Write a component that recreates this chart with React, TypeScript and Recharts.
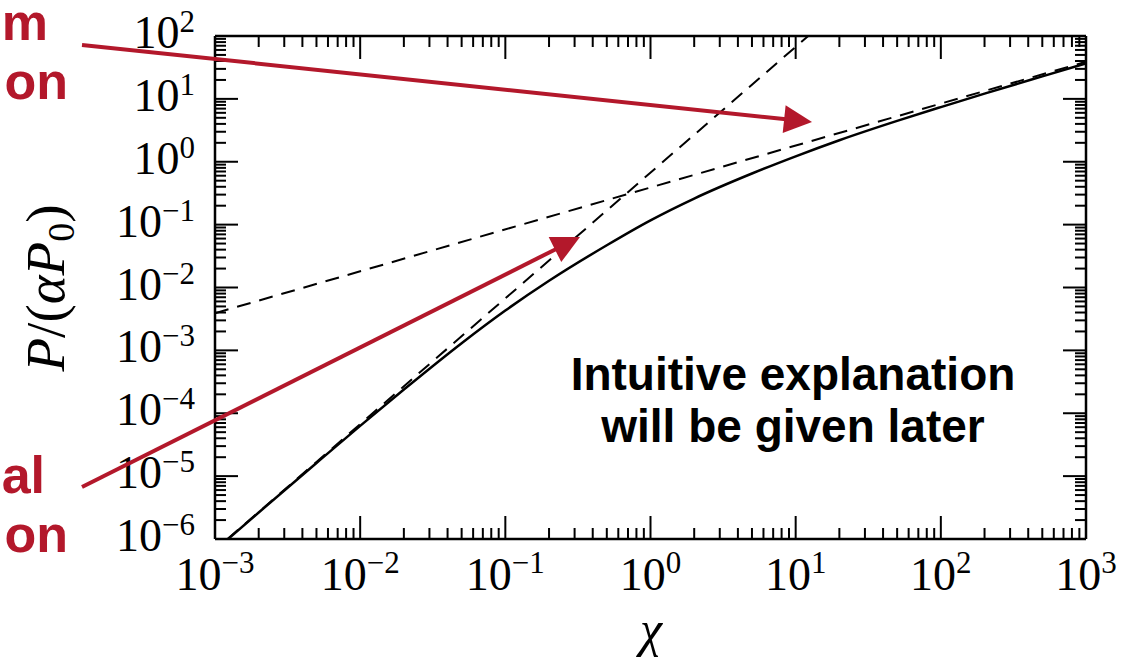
import React from 'react';
import { LineChart, Line, XAxis, YAxis } from 'recharts';

// axis decades and minor subdivisions
const chiDecades = [1e-3, 1e-2, 1e-1, 1, 1e1, 1e2, 1e3];
const powerDecades = [1e-6, 1e-5, 1e-4, 1e-3, 1e-2, 1e-1, 1, 1e1, 1e2];
const minorSteps = [2, 3, 4, 5, 6, 7, 8, 9];

// full radiated power P/(αP0) versus χ
const chiValues = [0.001, 0.002, 0.005, 0.01, 0.02, 0.05, 0.1, 0.2, 0.5, 1, 2, 5, 10, 20, 50, 100, 200, 500, 1000];
const powerValues = [6.6e-7, 2.64e-6, 1.62e-5, 6.3e-5, 2.38e-4, 1.3e-3, 4.3e-3, 1.28e-2, 0.047, 0.117, 0.26, 0.65, 1.22, 2.2, 4.47, 7.4, 12.1, 22.8, 36.7];

// classical asymptote (slope 2)
const classicalChi = [0.00122, 12.2];
const classicalPower = [1e-6, 100];

// strong-field asymptote (slope 2/3)
const strongChi = [0.001, 1000];
const strongPower = [0.0039, 39];

const fullCurve = chiValues.map((chi, i) => ({ chi, p: powerValues[i] }));
const classicalLine = classicalChi.map((chi, i) => ({ chi, p: classicalPower[i] }));
const strongLine = strongChi.map((chi, i) => ({ chi, p: strongPower[i] }));

const withMinors = (decades: number[]) => {
  const out: number[] = [];
  decades.forEach((d, i) => {
    out.push(d);
    if (i < decades.length - 1) minorSteps.forEach((m) => out.push(d * m));
  });
  return out;
};
const chiTicks = withMinors(chiDecades);
const powerTicks = withMinors(powerDecades);

const RED = '#b3182b';
const MAJOR = 23;
const MINOR = 11;
const SERIF = '"Liberation Serif", "DejaVu Serif", serif';
const SANS = '"Liberation Sans", Arial, sans-serif';

const isDecade = (v: number) => Math.abs(Math.log10(v) - Math.round(Math.log10(v))) < 1e-6;
const expText = (v: number) => {
  const e = Math.round(Math.log10(v));
  return e < 0 ? `\u2212${-e}` : `${e}`;
};

const BottomTick = ({ x, y, payload }: any) => {
  const major = isDecade(payload.value);
  return (
    <g>
      <line x1={x} x2={x} y1={y} y2={y - (major ? MAJOR : MINOR)} stroke="#000" strokeWidth={2} />
      {major && (
        <text x={x} y={y + 51} textAnchor="middle" fontFamily={SERIF} fontSize={46} fill="#000">
          10
          <tspan dy={-17} fontSize={31}>
            {expText(payload.value)}
          </tspan>
        </text>
      )}
    </g>
  );
};

const TopTick = ({ x, y, payload }: any) => {
  const major = isDecade(payload.value);
  return <line x1={x} x2={x} y1={y} y2={y + (major ? MAJOR : MINOR)} stroke="#000" strokeWidth={2} />;
};

const LeftTick = ({ x, y, payload }: any) => {
  const major = isDecade(payload.value);
  return (
    <g>
      <line x1={x} x2={x + (major ? MAJOR : MINOR)} y1={y} y2={y} stroke="#000" strokeWidth={2} />
      {major && (
        <text x={x - 20} y={y + 12} textAnchor="end" fontFamily={SERIF} fontSize={46} fill="#000">
          10
          <tspan dy={-16} fontSize={31}>
            {expText(payload.value)}
          </tspan>
        </text>
      )}
    </g>
  );
};

const RightTick = ({ x, y, payload }: any) => {
  const major = isDecade(payload.value);
  return <line x1={x} x2={x - (major ? MAJOR : MINOR)} y1={y} y2={y} stroke="#000" strokeWidth={2} />;
};

// red pointer arrows, from tail to tip
const arrows = [
  { from: [82, 45], to: [812, 122] },
  { from: [82, 487], to: [580, 237] },
];

const Arrow = ({ from, to }: { from: number[]; to: number[] }) => {
  const dx = to[0] - from[0];
  const dy = to[1] - from[1];
  const len = Math.hypot(dx, dy);
  const ux = dx / len;
  const uy = dy / len;
  const headLen = 28;
  const half = 14;
  const bx = to[0] - ux * headLen;
  const by = to[1] - uy * headLen;
  const pts = [
    [to[0], to[1]],
    [bx - uy * half, by + ux * half],
    [bx + uy * half, by - ux * half],
  ]
    .map((p) => p.join(','))
    .join(' ');
  return (
    <g>
      <line x1={from[0]} y1={from[1]} x2={bx + ux * 2} y2={by + uy * 2} stroke={RED} strokeWidth={4} />
      <polygon points={pts} fill={RED} />
    </g>
  );
};

const axisLine = { stroke: '#000', strokeWidth: 2.5 };

export default function App() {
  return (
    <div style={{ position: 'absolute', left: 0, top: 0, width: 1141, height: 663, background: '#fff' }}>
      <LineChart width={1141} height={663} margin={{ top: 0, right: 0, bottom: 0, left: 0 }}>
        <XAxis
          dataKey="chi"
          type="number"
          scale="log"
          domain={[1e-3, 1e3]}
          allowDataOverflow
          ticks={chiTicks}
          interval={0}
          height={124}
          tickSize={0}
          tickMargin={0}
          tickLine={false}
          axisLine={axisLine}
          tick={<BottomTick />}
        />
        <XAxis
          xAxisId="top"
          orientation="top"
          dataKey="chi"
          type="number"
          scale="log"
          domain={[1e-3, 1e3]}
          allowDataOverflow
          ticks={chiTicks}
          interval={0}
          height={36}
          tickSize={0}
          tickMargin={0}
          tickLine={false}
          axisLine={axisLine}
          tick={<TopTick />}
        />
        <YAxis
          dataKey="p"
          type="number"
          scale="log"
          domain={[1e-6, 1e2]}
          allowDataOverflow
          ticks={powerTicks}
          interval={0}
          width={215}
          tickSize={0}
          tickMargin={0}
          tickLine={false}
          axisLine={axisLine}
          tick={<LeftTick />}
        />
        <YAxis
          yAxisId="right"
          orientation="right"
          dataKey="p"
          type="number"
          scale="log"
          domain={[1e-6, 1e2]}
          allowDataOverflow
          ticks={powerTicks}
          interval={0}
          width={55}
          tickSize={0}
          tickMargin={0}
          tickLine={false}
          axisLine={axisLine}
          tick={<RightTick />}
        />
        <Line data={fullCurve} dataKey="p" type="monotone" stroke="#000" strokeWidth={2.5} dot={false} isAnimationActive={false} />
        <Line data={classicalLine} dataKey="p" type="linear" stroke="#000" strokeWidth={2} strokeDasharray="14 9" dot={false} isAnimationActive={false} />
        <Line data={strongLine} dataKey="p" type="linear" stroke="#000" strokeWidth={2} strokeDasharray="14 9" dot={false} isAnimationActive={false} />
      </LineChart>

      <svg width={1141} height={663} style={{ position: 'absolute', left: 0, top: 0, pointerEvents: 'none' }}>
        {/* axis titles */}
        <text x={651} y={646} textAnchor="middle" fontFamily={SERIF} fontStyle="italic" fontSize={50} fill="#000">
          χ
        </text>
        <text
          transform="translate(64,288) rotate(-90)"
          textAnchor="middle"
          fontFamily={SERIF}
          fontSize={55}
          fill="#000"
        >
          <tspan fontStyle="italic">P</tspan>/(<tspan fontStyle="italic">αP</tspan>
          <tspan dy={10} fontSize={38}>0</tspan>
          <tspan dy={-10}>)</tspan>
        </text>

        {/* note inside the plot */}
        <text x={793} y={390} textAnchor="middle" fontFamily={SANS} fontWeight="bold" fontSize={46} fill="#000">
          Intuitive explanation
        </text>
        <text x={793} y={442} textAnchor="middle" fontFamily={SANS} fontWeight="bold" fontSize={46} fill="#000">
          will be given later
        </text>

        {/* side captions */}
        <g fontFamily={SANS} fontWeight="bold" fontSize={52} fill={RED} textAnchor="end">
          <text x={48} y={40}>m</text>
          <text x={68} y={99}>on</text>
          <text x={45} y={493}>al</text>
          <text x={68} y={552}>on</text>
        </g>

        {arrows.map((a, i) => (
          <Arrow key={i} from={a.from} to={a.to} />
        ))}
      </svg>
    </div>
  );
}
